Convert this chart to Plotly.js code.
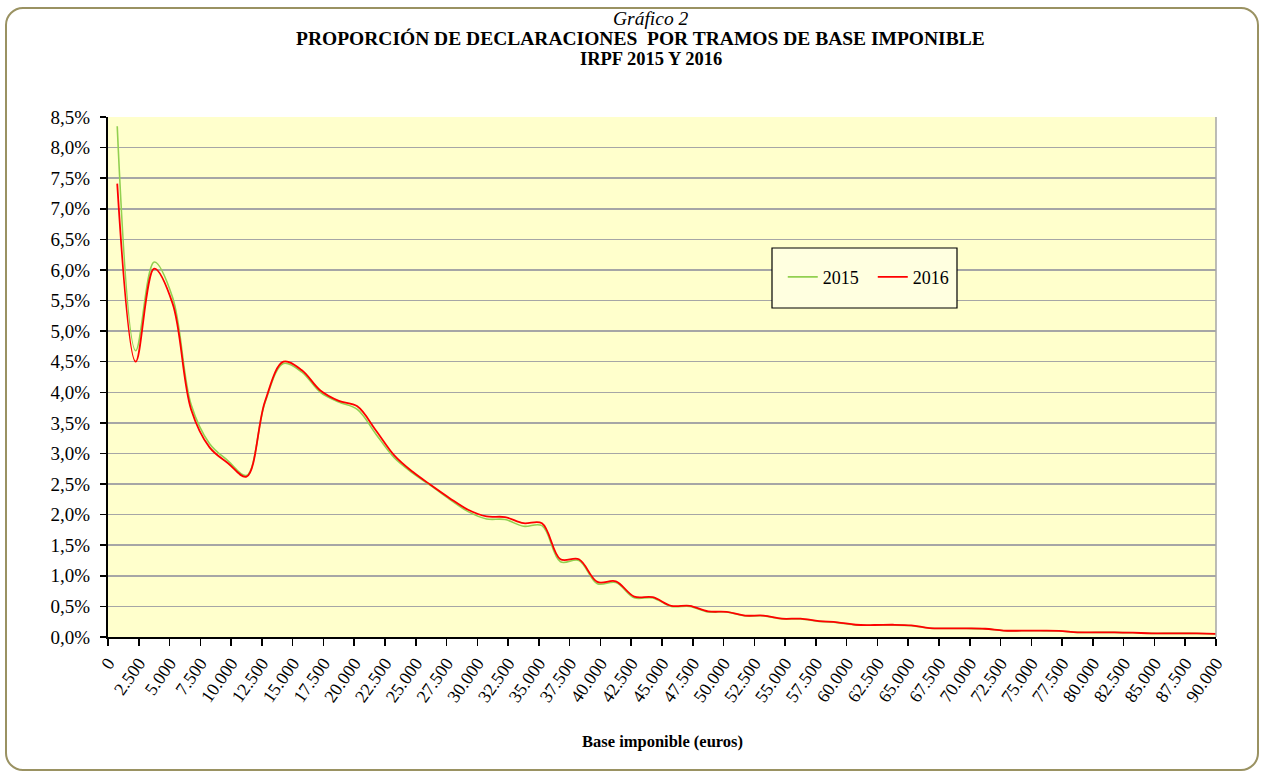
<!DOCTYPE html>
<html>
<head>
<meta charset="utf-8">
<script src="https://cdn.plot.ly/plotly-3.0.1.min.js"></script>
<style>
  html, body { margin: 0; padding: 0; background: #ffffff; }
  #wrap { position: relative; width: 1262px; height: 776px; }
  #chart { width: 1262px; height: 776px; }
  #frame { position: absolute; left: 5px; top: 7px; width: 1250px; height: 760px;
           border: 2px solid #9a9262; border-radius: 18px; pointer-events: none; }
</style>
</head>
<body>
<div id="wrap">
  <div id="chart"></div>
  <div id="frame"></div>
</div>
<script>
// Centro de cada tramo de base imponible (euros)
const tramoCentro = [750, 2250, 3750, 5250, 6750, 8250, 9750, 11250, 12750, 14250,
  15750, 17250, 18750, 20250, 21750, 23250, 24750, 26250, 27750, 29250,
  30750, 32250, 33750, 35250, 36750, 38250, 39750, 41250, 42750, 44250,
  45750, 47250, 48750, 50250, 51750, 53250, 54750, 56250, 57750, 59250,
  60750, 62250, 63750, 65250, 66750, 68250, 69750, 71250, 72750, 74250,
  75750, 77250, 78750, 80250, 81750, 83250, 84750, 86250, 87750, 89250, 90750];

// Proporción de declaraciones (%) - IRPF 2015
const irpf2015 = [8.35, 4.68, 6.13, 5.55, 3.80, 3.16, 2.88, 2.64, 3.83, 4.47,
  4.33, 4.00, 3.84, 3.72, 3.32, 2.93, 2.68, 2.47, 2.25, 2.05,
  1.93, 1.92, 1.81, 1.82, 1.23, 1.25, 0.87, 0.89, 0.64, 0.64,
  0.50, 0.50, 0.41, 0.41, 0.345, 0.345, 0.295, 0.295, 0.255, 0.235,
  0.195, 0.193, 0.195, 0.185, 0.143, 0.138, 0.138, 0.133, 0.103, 0.101,
  0.101, 0.098, 0.076, 0.075, 0.075, 0.069, 0.059, 0.059, 0.059, 0.054, 0.049];

// Proporción de declaraciones (%) - IRPF 2016
const irpf2016 = [7.41, 4.50, 6.02, 5.45, 3.72, 3.10, 2.84, 2.62, 3.85, 4.50,
  4.36, 4.03, 3.86, 3.77, 3.38, 2.97, 2.70, 2.48, 2.27, 2.08,
  1.97, 1.96, 1.86, 1.86, 1.27, 1.27, 0.90, 0.91, 0.66, 0.65,
  0.51, 0.51, 0.42, 0.41, 0.35, 0.35, 0.30, 0.30, 0.26, 0.24,
  0.20, 0.196, 0.20, 0.19, 0.145, 0.14, 0.14, 0.135, 0.105, 0.103,
  0.103, 0.10, 0.077, 0.076, 0.076, 0.07, 0.06, 0.06, 0.06, 0.055, 0.05];

const serieNombres = ['2015', '2016'];
const serieColores = ['#92d050', '#ff0000'];

const serif = '"Liberation Serif", "Times New Roman", serif';

const traces = [
  { x: tramoCentro, y: irpf2015, name: serieNombres[0], type: 'scatter', mode: 'lines',
    line: { color: serieColores[0], width: 1.6, shape: 'spline', smoothing: 1 } },
  { x: tramoCentro, y: irpf2016, name: serieNombres[1], type: 'scatter', mode: 'lines',
    line: { color: serieColores[1], width: 1.8, shape: 'spline', smoothing: 1 } }
];

const layout = {
  width: 1262, height: 776,
  margin: { l: 108, r: 46, t: 117, b: 139 },
  paper_bgcolor: 'rgba(0,0,0,0)',
  plot_bgcolor: '#ffffcc',
  separators: ',.',
  font: { family: serif, size: 18, color: '#000000' },
  showlegend: true,
  legend: {
    orientation: 'h', x: 0.609, y: 0.692, xanchor: 'left', yanchor: 'middle',
    bgcolor: 'rgba(0,0,0,0)', borderwidth: 0,
    font: { family: serif, size: 18, color: '#000' },
    itemwidth: 30, entrywidth: 45, entrywidthmode: 'pixels'
  },
  xaxis: {
    range: [0, 90000], tick0: 0, dtick: 2500, tickformat: ',d',
    tickangle: -55, ticks: 'outside', ticklen: 7, tickwidth: 1.5, tickcolor: '#000',
    showline: true, linecolor: '#000', linewidth: 1.5,
    showgrid: false, zeroline: false,
    tickfont: { family: serif, size: 18, color: '#000' },
    fixedrange: true
  },
  yaxis: {
    range: [0, 8.5], tick0: 0, dtick: 0.5, tickformat: '.1f', ticksuffix: '%',
    ticks: 'outside', ticklen: 6, tickwidth: 1.5, tickcolor: '#000',
    showline: true, linecolor: '#000', linewidth: 2,
    showgrid: true, gridcolor: '#a6a6a6', gridwidth: 1.5, zeroline: false,
    tickfont: { family: serif, size: 19, color: '#000' },
    ticklabelstandoff: 6,
    fixedrange: true
  },
  shapes: [
    { type: 'line', xref: 'paper', yref: 'paper', x0: 1, x1: 1, y0: 0, y1: 1,
      line: { color: '#a6a6a6', width: 1.5 } },
    { type: 'rect', xref: 'paper', yref: 'paper', layer: 'above',
      x0: (772 - 108) / 1108, x1: (957 - 108) / 1108,
      y0: (637 - 308) / 520, y1: (637 - 248) / 520,
      fillcolor: '#ffffe0', line: { color: '#000', width: 1.2 } }
  ],
  annotations: [
    { text: '<i>Gráfico 2</i>', xref: 'paper', yref: 'paper', x: 0.49, y: (637 - 18) / 520,
      xanchor: 'center', yanchor: 'middle', showarrow: false,
      font: { family: serif, size: 19.5, color: '#000' } },
    { text: '<b>PROPORCIÓN DE DECLARACIONES  POR TRAMOS DE BASE IMPONIBLE</b>', xref: 'paper', yref: 'paper',
      x: 0.481, y: (637 - 38.5) / 520, xanchor: 'center', yanchor: 'middle', showarrow: false,
      font: { family: serif, size: 19.5, color: '#000' } },
    { text: '<b>IRPF 2015 Y 2016</b>', xref: 'paper', yref: 'paper', x: 0.49, y: (637 - 59.5) / 520,
      xanchor: 'center', yanchor: 'middle', showarrow: false,
      font: { family: serif, size: 18.5, color: '#000' } },
    { text: '<b>Base imponible (euros)</b>', xref: 'paper', yref: 'paper', x: 0.5, y: (637 - 741) / 520,
      xanchor: 'center', yanchor: 'middle', showarrow: false,
      font: { family: serif, size: 16.5, color: '#000' } }
  ]
};

Plotly.newPlot('chart', traces, layout, { displayModeBar: false, staticPlot: true });
</script>
</body>
</html>
